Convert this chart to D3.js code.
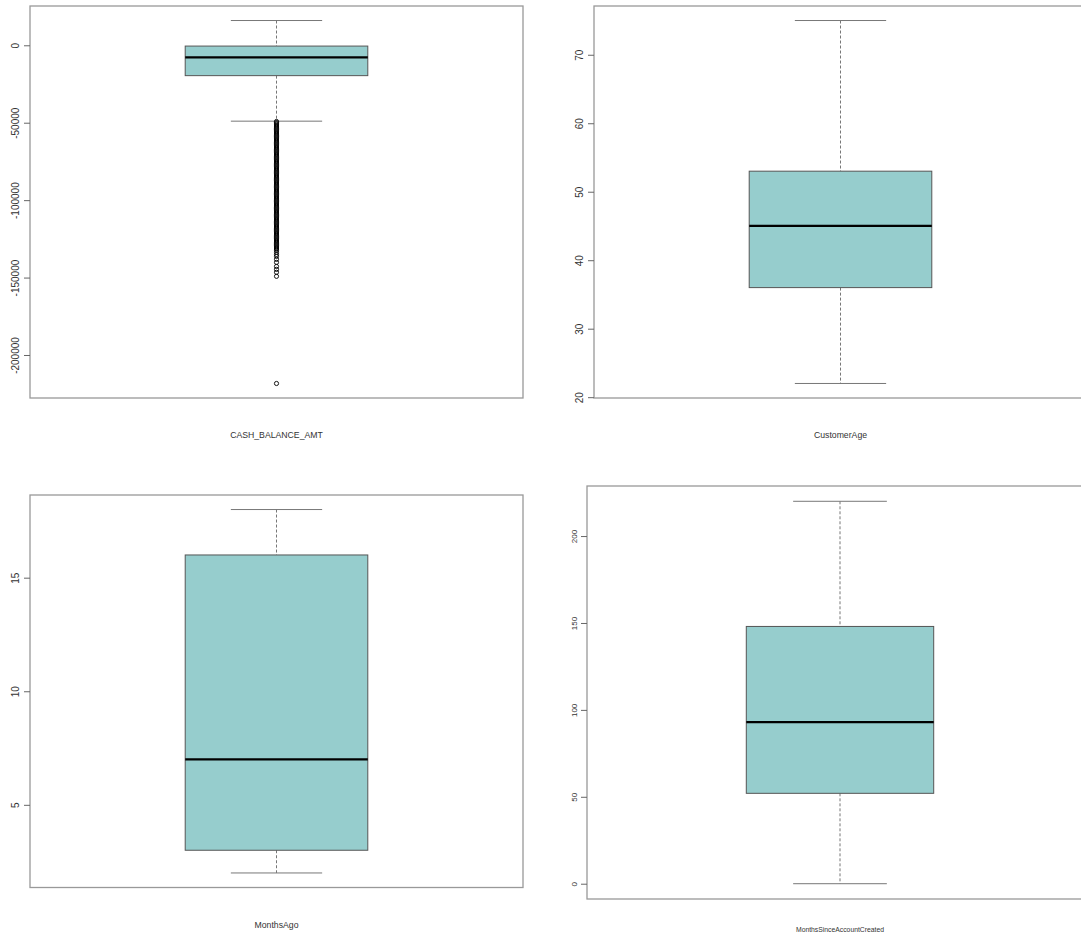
<!DOCTYPE html>
<html>
<head>
<meta charset="utf-8">
<script src="https://cdn.jsdelivr.net/npm/d3@7"></script>
<style>
  body { margin: 0; background: #fff; }
  svg { display: block; }
  text { font-family: "Liberation Sans", Arial, sans-serif; fill: #333; }
</style>
</head>
<body>
<svg id="chart" width="1081" height="936"></svg>
<script>
// Five-number summaries of each variable
const variables   = ["CASH_BALANCE_AMT", "CustomerAge", "MonthsAgo", "MonthsSinceAccountCreated"];
const whiskerLow  = [-49000, 22, 2, 0];
const q1          = [-19600, 36, 3, 52];
const medians     = [-7800, 45, 7, 93];
const q3          = [-500, 53, 16, 148];
const whiskerHigh = [16000, 75, 18, 220];

// Points beyond the lower whisker of CASH_BALANCE_AMT
const cashOutliers = [
  -49200, -49900, -50700, -51400, -52200, -52900, -53700, -54400, -55200, -55900,
  -56700, -57400, -58200, -58900, -59700, -60400, -61200, -61900, -62700, -63400,
  -64200, -64900, -65700, -66400, -67200, -67900, -68700, -69400, -70200, -70900,
  -71700, -72400, -73200, -73900, -74700, -75400, -76200, -76900, -77700, -78400,
  -79200, -79900, -80700, -81400, -82200, -82900, -83700, -84400, -85200, -85900,
  -86700, -87400, -88200, -88900, -89700, -90400, -91200, -91900, -92700, -93400,
  -94200, -94900, -95700, -96400, -97200, -97900, -98700, -99400, -100200, -100900,
  -101700, -102400, -103200, -103900, -104700, -105400, -106200, -106900, -107700, -108400,
  -109200, -109900, -110700, -111400, -112200, -112900, -113700, -114400, -115200, -115900,
  -116700, -117400, -118200, -118900, -119700, -120400, -121200, -121900, -122700, -123400,
  -124200, -124900, -125700, -126400, -127200, -127900, -128700, -129400, -130200, -130900,
  -131600, -132400, -133700, -135100, -136300, -138200, -140200, -142800, -144700, -146600,
  -149200, -218400
];
const outliers = [cashOutliers, [], [], []];

// Y-axis tick labels per variable
const ticksCash    = [0, -50000, -100000, -150000, -200000];
const ticksAge     = [20, 30, 40, 50, 60, 70];
const ticksMonths  = [5, 10, 15];
const ticksCreated = [0, 50, 100, 150, 200];
const tickSets = [ticksCash, ticksAge, ticksMonths, ticksCreated];

// Panel placement on the page
const panels = [
  { x0: 30,  x1: 523,  y0: 6,   y1: 398,   labelY: 438, tickFont: 10, labelFont: 8.7, tickOffset: 11 },
  { x0: 594, x1: 1087, y0: 6,   y1: 398,   labelY: 438, tickFont: 10, labelFont: 8.7, tickOffset: 11 },
  { x0: 30,  x1: 523,  y0: 495, y1: 887.5, labelY: 928, tickFont: 10, labelFont: 8.7, tickOffset: 11 },
  { x0: 587, x1: 1093, y0: 486, y1: 899,   labelY: 932, tickFont: 8,  labelFont: 6.8, tickOffset: 10 }
];

const svg = d3.select("#chart");
const boxFill = "#96CDCD";

panels.forEach((p, i) => {
  const g = svg.append("g");

  // Value range padded by 4% on each side
  const lo = d3.min([whiskerLow[i], ...outliers[i]]);
  const hi = d3.max([whiskerHigh[i], ...outliers[i]]);
  const pad = (hi - lo) * 0.04;
  const y = d3.scaleLinear().domain([lo - pad, hi + pad]).range([p.y1, p.y0]);
  const x = d3.scaleLinear().domain([0.46, 1.54]).range([p.x0, p.x1]);

  // Whiskers (dashed) and caps
  g.append("line")
    .attr("x1", x(1)).attr("x2", x(1))
    .attr("y1", y(whiskerHigh[i])).attr("y2", y(q3[i]))
    .attr("stroke", "#777").attr("stroke-width", 1).attr("stroke-dasharray", "3,2");
  g.append("line")
    .attr("x1", x(1)).attr("x2", x(1))
    .attr("y1", y(q1[i])).attr("y2", y(whiskerLow[i]))
    .attr("stroke", "#777").attr("stroke-width", 1).attr("stroke-dasharray", "3,2");
  [whiskerHigh[i], whiskerLow[i]].forEach(v => {
    g.append("line")
      .attr("x1", x(0.9)).attr("x2", x(1.1))
      .attr("y1", y(v)).attr("y2", y(v))
      .attr("stroke", "#777").attr("stroke-width", 1);
  });

  // Box and median
  g.append("rect")
    .attr("x", x(0.8)).attr("width", x(1.2) - x(0.8))
    .attr("y", y(q3[i])).attr("height", y(q1[i]) - y(q3[i]))
    .attr("fill", boxFill).attr("stroke", "#555").attr("stroke-width", 1);
  g.append("line")
    .attr("x1", x(0.8)).attr("x2", x(1.2))
    .attr("y1", y(medians[i])).attr("y2", y(medians[i]))
    .attr("stroke", "#000").attr("stroke-width", 2.2);

  // Outlier circles
  g.selectAll("circle.out").data(outliers[i]).join("circle")
    .attr("class", "out")
    .attr("cx", x(1)).attr("cy", d => y(d)).attr("r", 2.1)
    .attr("fill", "none").attr("stroke", "#000").attr("stroke-width", 0.9);

  // Frame
  g.append("rect")
    .attr("x", p.x0).attr("y", p.y0)
    .attr("width", p.x1 - p.x0).attr("height", p.y1 - p.y0)
    .attr("fill", "none").attr("stroke", "#999").attr("stroke-width", 1.3);

  // Y axis with rotated labels
  const axis = g.append("g")
    .attr("transform", `translate(${p.x0},0)`)
    .call(d3.axisLeft(y).tickValues(tickSets[i]).tickSize(6).tickFormat(d => String(d)));
  axis.select(".domain").remove();
  axis.selectAll(".tick line").attr("stroke", "#666");
  axis.selectAll(".tick text")
    .attr("x", null).attr("dy", null)
    .attr("text-anchor", "middle")
    .attr("transform", `translate(${-p.tickOffset},0) rotate(-90)`)
    .style("font-size", p.tickFont + "px")
    .style("font-family", '"Liberation Sans", Arial, sans-serif')
    .attr("fill", "#333");

  // Variable name below the panel
  g.append("text")
    .attr("x", x(1))
    .attr("y", p.labelY)
    .attr("text-anchor", "middle")
    .style("font-size", p.labelFont + "px")
    .text(variables[i]);
});
</script>
</body>
</html>
